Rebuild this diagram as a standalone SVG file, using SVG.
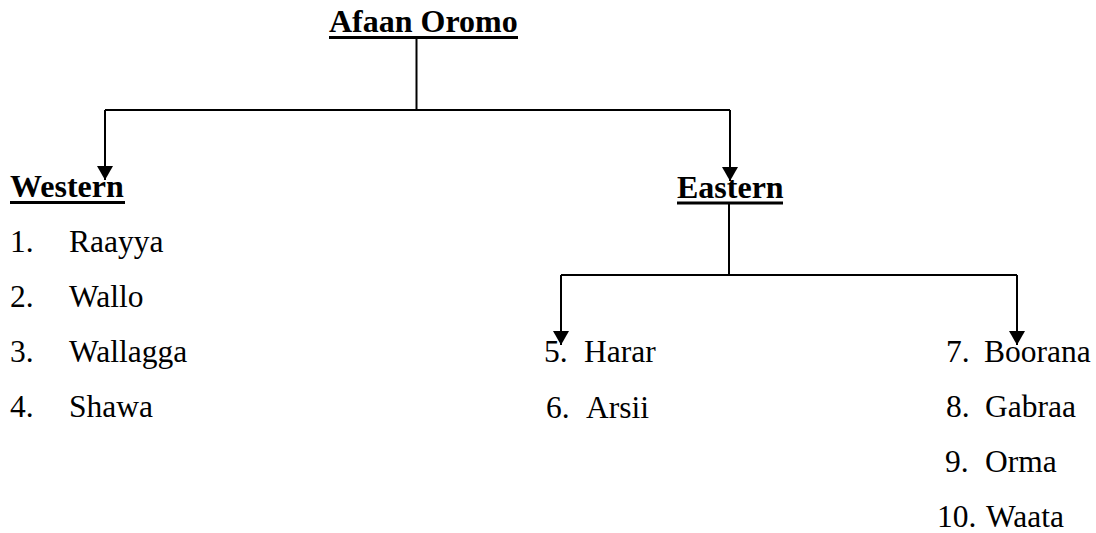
<svg xmlns="http://www.w3.org/2000/svg" width="1096" height="533" viewBox="0 0 1096 533">
<style>
.h{font-family:"Liberation Serif","Times New Roman",serif;font-size:32px;font-weight:bold;fill:#000}
.t{font-family:"Liberation Serif","Times New Roman",serif;font-size:31.5px;fill:#000}
.ul{stroke:#000;stroke-width:3}
.c{stroke:#000;stroke-width:2;fill:none}
</style>
<defs>
<marker id="ah" markerUnits="userSpaceOnUse" markerWidth="14" markerHeight="16" refX="14" refY="8" orient="auto" viewBox="0 0 14 16">
<path d="M0,0 L14,8 L0,16 Z" fill="#000"/>
</marker>
</defs>
<rect width="1096" height="533" fill="#fff"/>
<g id="connectors">
<path class="c" d="M416.5,38 V110"/>
<path class="c" d="M105,110 H730"/>
<path class="c" d="M105,110 V180" marker-end="url(#ah)"/>
<path class="c" d="M730,110 V181" marker-end="url(#ah)"/>
<path class="c" d="M729,204 V275"/>
<path class="c" d="M561,275 H1017"/>
<path class="c" d="M561,275 V345" marker-end="url(#ah)"/>
<path class="c" d="M1017,275 V345" marker-end="url(#ah)"/>
</g>
<g id="root">
<text class="h" x="329" y="32">Afaan Oromo</text>
<line class="ul" x1="329" y1="37.5" x2="518" y2="37.5"/>
</g>
<g id="western">
<text class="h" x="10" y="197">Western</text>
<line class="ul" x1="10" y1="202.5" x2="125" y2="202.5"/>
<text class="t" x="10" y="252">1.</text><text class="t" x="69" y="252">Raayya</text>
<text class="t" x="10" y="307">2.</text><text class="t" x="69" y="307">Wallo</text>
<text class="t" x="10" y="362">3.</text><text class="t" x="69" y="362">Wallagga</text>
<text class="t" x="10" y="417">4.</text><text class="t" x="69" y="417">Shawa</text>
</g>
<g id="eastern">
<text class="h" x="677" y="198">Eastern</text>
<line class="ul" x1="677" y1="203" x2="783" y2="203"/>
</g>
<g id="eastern-left">
<text class="t" x="544" y="362">5.</text><text class="t" x="584" y="362">Harar</text>
<text class="t" x="546" y="418">6.</text><text class="t" x="586" y="418">Arsii</text>
</g>
<g id="eastern-right">
<text class="t" x="946" y="362">7.</text><text class="t" x="984" y="362">Boorana</text>
<text class="t" x="946" y="417">8.</text><text class="t" x="985" y="417">Gabraa</text>
<text class="t" x="945" y="472">9.</text><text class="t" x="985" y="472">Orma</text>
<text class="t" x="937" y="527">10.</text><text class="t" x="986" y="527">Waata</text>
</g>
</svg>
